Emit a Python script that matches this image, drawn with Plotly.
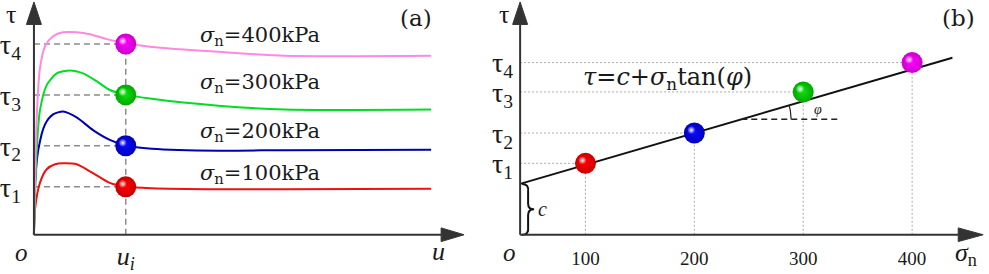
import numpy as np
import plotly.graph_objects as go

W, H = 989, 274

# ---------------- data : panel (a) shear stress - displacement curves (schematic units) ----------
SIGMA_LABELS = ["100", "200", "300", "400"]
U_I = 2.3
TAU_A = [49, 91, 143, 195]          # tau_1 .. tau_4 at u_i

U_RED = [0, 0.03, 0.15, 0.32, 0.53, 0.73, 1.07, 1.48, 1.9, 2.32, 2.95, 4.62, 6.3, 9.95]
TAU_RED = [0, 27, 53, 67, 72, 73, 72, 63, 53, 49, 47.5, 46.5, 46.5, 47]

U_BLUE = [0, 0.03, 0.11, 0.28, 0.48, 0.73, 1.07, 1.48, 1.9, 2.32, 2.95, 4.62, 6.3, 9.95]
TAU_BLUE = [0, 53, 87, 113, 123, 126, 120, 107, 97, 91, 88, 86, 86.5, 87]

U_GREEN = [0, 0.07, 0.15, 0.32, 0.57, 0.9, 1.23, 1.57, 1.9, 2.32, 2.95, 4.62, 6.28, 9.95]
TAU_GREEN = [0, 87, 127, 153, 165, 168, 165, 157, 148, 143, 139, 132, 128, 128]

U_PINK = [0, 0.07, 0.15, 0.28, 0.48, 0.73, 1.07, 1.4, 1.82, 2.15, 2.4, 2.95, 4.62, 6.28, 9.95]
TAU_PINK = [0, 120, 170, 193, 203, 207, 207, 205, 200, 197, 195, 192, 187, 183, 183]

# ---------------- data : panel (b) Mohr-Coulomb envelope ----------------
SIGMA = [100, 200, 300, 400]
TAU_B = [73, 104, 146, 176]
C_VALUE = 52
TAN_PHI = 0.325
SIGMA_ORIGIN = 40      # where the tau axis is drawn (schematic)
SIGMA_LINE_END = 437
TAU_PHI_MARK = 118     # height of the angle marker

# ---------------- styling ----------------
CURVE_COLORS = ["#ee1111", "#0000b0", "#00dd22", "#ff88e0"]
BALL_COLORS = ["#ff0000", "#0a0aff", "#10dd10", "#ff00ff"]
BALL_EDGE = ["#c80000", "#0000b8", "#00a800", "#cc00cc"]
AX = "#333333"
TXT = "#1a1a1a"
SERIF = "Liberation Serif"
WIDE = "DejaVu Serif"

SPLIT = 480 / W
X1_RANGE = [-0.8, 11.2]
X2_RANGE = [4.1, 470.6]
Y_RANGE = [-34, 240]
PXU = SPLIT * W / (X1_RANGE[1] - X1_RANGE[0])          # px per u
PXS = (1 - SPLIT) * W / (X2_RANGE[1] - X2_RANGE[0])    # px per sigma
XPOS_AXIS = 34 / 274

fig = go.Figure()

# curves (a)
for u, t, col in zip([U_RED, U_BLUE, U_GREEN, U_PINK], [TAU_RED, TAU_BLUE, TAU_GREEN, TAU_PINK], CURVE_COLORS):
    fig.add_trace(go.Scatter(x=u, y=t, mode="lines", line=dict(color=col, width=2, shape="spline", smoothing=0.7),
                             xaxis="x", yaxis="y", hoverinfo="skip"))

# guide lines (a)
shapes = []
for t in TAU_A:
    shapes.append(dict(type="line", xref="x", yref="y", x0=0, x1=U_I, y0=t, y1=t,
                       line=dict(color="#8c8c8c", width=1.5, dash="6px,4px"), layer="below"))
shapes.append(dict(type="line", xref="x", yref="y", x0=U_I, x1=U_I, y0=0, y1=max(TAU_A),
                   line=dict(color="#8c8c8c", width=1.5, dash="6px,4px"), layer="below"))

# guide lines (b)
for s, t in zip(SIGMA, TAU_B):
    shapes.append(dict(type="line", xref="x2", yref="y2", x0=SIGMA_ORIGIN, x1=s, y0=t, y1=t,
                       line=dict(color="#aaaaaa", width=1, dash="2px,2px"), layer="below"))
    shapes.append(dict(type="line", xref="x2", yref="y2", x0=s, x1=s, y0=0, y1=t,
                       line=dict(color="#aaaaaa", width=1, dash="2px,2px"), layer="below"))

# envelope line (b)
sig_line = [SIGMA_ORIGIN, SIGMA_LINE_END]
tau_line = [C_VALUE + TAN_PHI * (s - SIGMA_ORIGIN) for s in sig_line]
fig.add_trace(go.Scatter(x=sig_line, y=tau_line, mode="lines", line=dict(color="#111111", width=2),
                         xaxis="x2", yaxis="y2", hoverinfo="skip"))

# angle marker
s_int = SIGMA_ORIGIN + (TAU_PHI_MARK - C_VALUE) / TAN_PHI
shapes.append(dict(type="line", xref="x2", yref="y2", x0=s_int, x1=s_int + 98 / PXS,
                   y0=TAU_PHI_MARK, y1=TAU_PHI_MARK, line=dict(color="#222222", width=1.5, dash="6px,4px")))
ang = np.arctan(TAN_PHI / PXS)
tt = np.linspace(0, ang, 20)
fig.add_trace(go.Scatter(x=s_int + 50 * np.cos(tt) / PXS, y=TAU_PHI_MARK + 50 * np.sin(tt), mode="lines",
                         line=dict(color="#222222", width=1.2), xaxis="x2", yaxis="y2", hoverinfo="skip"))

# brace for c
def bp(dx, up):
    return f"{SIGMA_ORIGIN + dx / PXS:.3f},{up * C_VALUE / 52:.3f}"
brace = (f"M {bp(2,52)} Q {bp(9,52)} {bp(8,44)} L {bp(8,32)} Q {bp(8,26)} {bp(14,26)} "
         f"Q {bp(8,26)} {bp(8,20)} L {bp(8,8)} Q {bp(9,0)} {bp(2,0)}")
shapes.append(dict(type="path", xref="x2", yref="y2", path=brace, line=dict(color="#111111", width=2)))

# axes lines + arrowheads
def add_axes(xr, yr, x0, xtip, xbase, half_w_x):
    shapes.append(dict(type="line", xref=xr, yref=yr, x0=x0, x1=x0, y0=0, y1=215, line=dict(color=AX, width=2)))
    shapes.append(dict(type="path", xref=xr, yref=yr, fillcolor=AX, line=dict(color=AX, width=1),
                       path=f"M {x0 - half_w_x},215 L {x0},238 L {x0 + half_w_x},215 Z"))
    shapes.append(dict(type="line", xref=xr, yref=yr, x0=x0, x1=xbase, y0=0, y1=0, line=dict(color=AX, width=2)))
    shapes.append(dict(type="path", xref=xr, yref=yr, fillcolor=AX, line=dict(color=AX, width=1),
                       path=f"M {xbase},-7 L {xtip},0 L {xbase},7 Z"))

add_axes("x", "y", 0, (463 - 32) / PXU, (440 - 32) / PXU, 7.5 / PXU)
add_axes("x2", "y2", SIGMA_ORIGIN, SIGMA_ORIGIN + (983 - 519) / PXS, SIGMA_ORIGIN + (958 - 519) / PXS, 7.5 / PXS)

# balls
def balls(xs, ys, xr, yr, dx):
    fig.add_trace(go.Scatter(x=xs, y=ys, mode="markers", xaxis=xr, yaxis=yr, hoverinfo="skip",
                             marker=dict(size=21, color=BALL_EDGE, line=dict(width=0),
                                         gradient=dict(type="radial", color=BALL_COLORS))))
    fig.add_trace(go.Scatter(x=[x - dx for x in xs], y=[y + 3 for y in ys], mode="markers", xaxis=xr, yaxis=yr,
                             hoverinfo="skip",
                             marker=dict(size=8, color=BALL_COLORS, line=dict(width=0),
                                         gradient=dict(type="radial", color="#ffffff"))))

balls([U_I] * 4, TAU_A, "x", "y", 3 / PXU)
balls(SIGMA, TAU_B, "x2", "y2", 3 / PXS)

# annotations
ann = []
def txt(text, x, y, xr, yr, size, family=SERIF, xanchor="center", yanchor="middle"):
    ann.append(dict(text=text, x=x, y=y, xref=xr, yref=yr, showarrow=False, xanchor=xanchor, yanchor=yanchor,
                    font=dict(family=family, size=size, color=TXT)))

LABEL_Y = [62, 105, 155, 203]
for lab, ly in zip(SIGMA_LABELS, LABEL_Y):
    txt(f"<i>σ</i><sub>n</sub>={lab}kPa", (196 - 32) / PXU, ly, "x", "y", 21, WIDE, xanchor="left")

txt("τ", (9 - 32) / PXU, 225, "x", "y", 26)
txt("<i>o</i>", (20 - 32) / PXU, -18, "x", "y", 25)
txt("<i>u</i>", (437 - 32) / PXU, -17, "x", "y", 26)
txt("(a)", (415 - 32) / PXU, 222, "x", "y", 23, WIDE)

txt("τ", SIGMA_ORIGIN + (503 - 519) / PXS, 225, "x2", "y2", 26)
txt("<i>o</i>", SIGMA_ORIGIN + (508 - 519) / PXS, -18, "x2", "y2", 25)
txt("<i>σ</i><sub>n</sub>", SIGMA_ORIGIN + (966 - 519) / PXS, -20, "x2", "y2", 26)
txt("(b)", SIGMA_ORIGIN + (958 - 519) / PXS, 222, "x2", "y2", 23, WIDE)
txt("<i>τ</i>=<i>c</i>+<i>σ</i><sub>n</sub>tan(<i>φ</i>)", SIGMA_ORIGIN + (667 - 519) / PXS, 160, "x2", "y2", 24, WIDE)
txt("<i>φ</i>", SIGMA_ORIGIN + (817 - 519) / PXS, 128, "x2", "y2", 14)
txt("<i>c</i>", SIGMA_ORIGIN + (541 - 519) / PXS, C_VALUE / 2, "x2", "y2", 20)

tau_ticks = ["τ<sub>1</sub>", "τ<sub>2</sub>", "τ<sub>3</sub>", "τ<sub>4</sub>"]

fig.update_layout(
    width=W, height=H, margin=dict(l=0, r=0, t=0, b=0),
    paper_bgcolor="white", plot_bgcolor="rgba(0,0,0,0)", showlegend=False,
    shapes=shapes, annotations=ann,
    xaxis=dict(domain=[0, SPLIT], range=X1_RANGE, anchor="free", position=XPOS_AXIS,
               showgrid=False, zeroline=False, showline=False, ticks="",
               tickvals=[U_I], ticktext=["<i>u</i><sub><i>i</i></sub>"], ticklabelstandoff=3,
               tickfont=dict(family=SERIF, size=26, color=TXT)),
    yaxis=dict(domain=[0, 1], range=Y_RANGE, anchor="free", position=32 / W,
               showgrid=False, zeroline=False, showline=False, ticks="",
               tickvals=TAU_A, ticktext=tau_ticks, ticklabelstandoff=13,
               tickfont=dict(family=SERIF, size=28, color=TXT)),
    xaxis2=dict(domain=[SPLIT, 1], range=X2_RANGE, anchor="free", position=XPOS_AXIS,
                showgrid=False, zeroline=False, showline=False, ticks="",
                tickvals=SIGMA, ticktext=SIGMA_LABELS, ticklabelstandoff=10,
                tickfont=dict(family=SERIF, size=19, color=TXT)),
    yaxis2=dict(domain=[0, 1], range=Y_RANGE, anchor="free", position=519.1 / W,
                showgrid=False, zeroline=False, showline=False, ticks="",
                tickvals=TAU_B, ticktext=tau_ticks, ticklabelstandoff=7,
                tickfont=dict(family=SERIF, size=28, color=TXT)),
)

fig.write_html("out.html", config={"displayModeBar": False},
               post_script="document.body.style.margin='0';document.body.style.overflow='hidden';")
